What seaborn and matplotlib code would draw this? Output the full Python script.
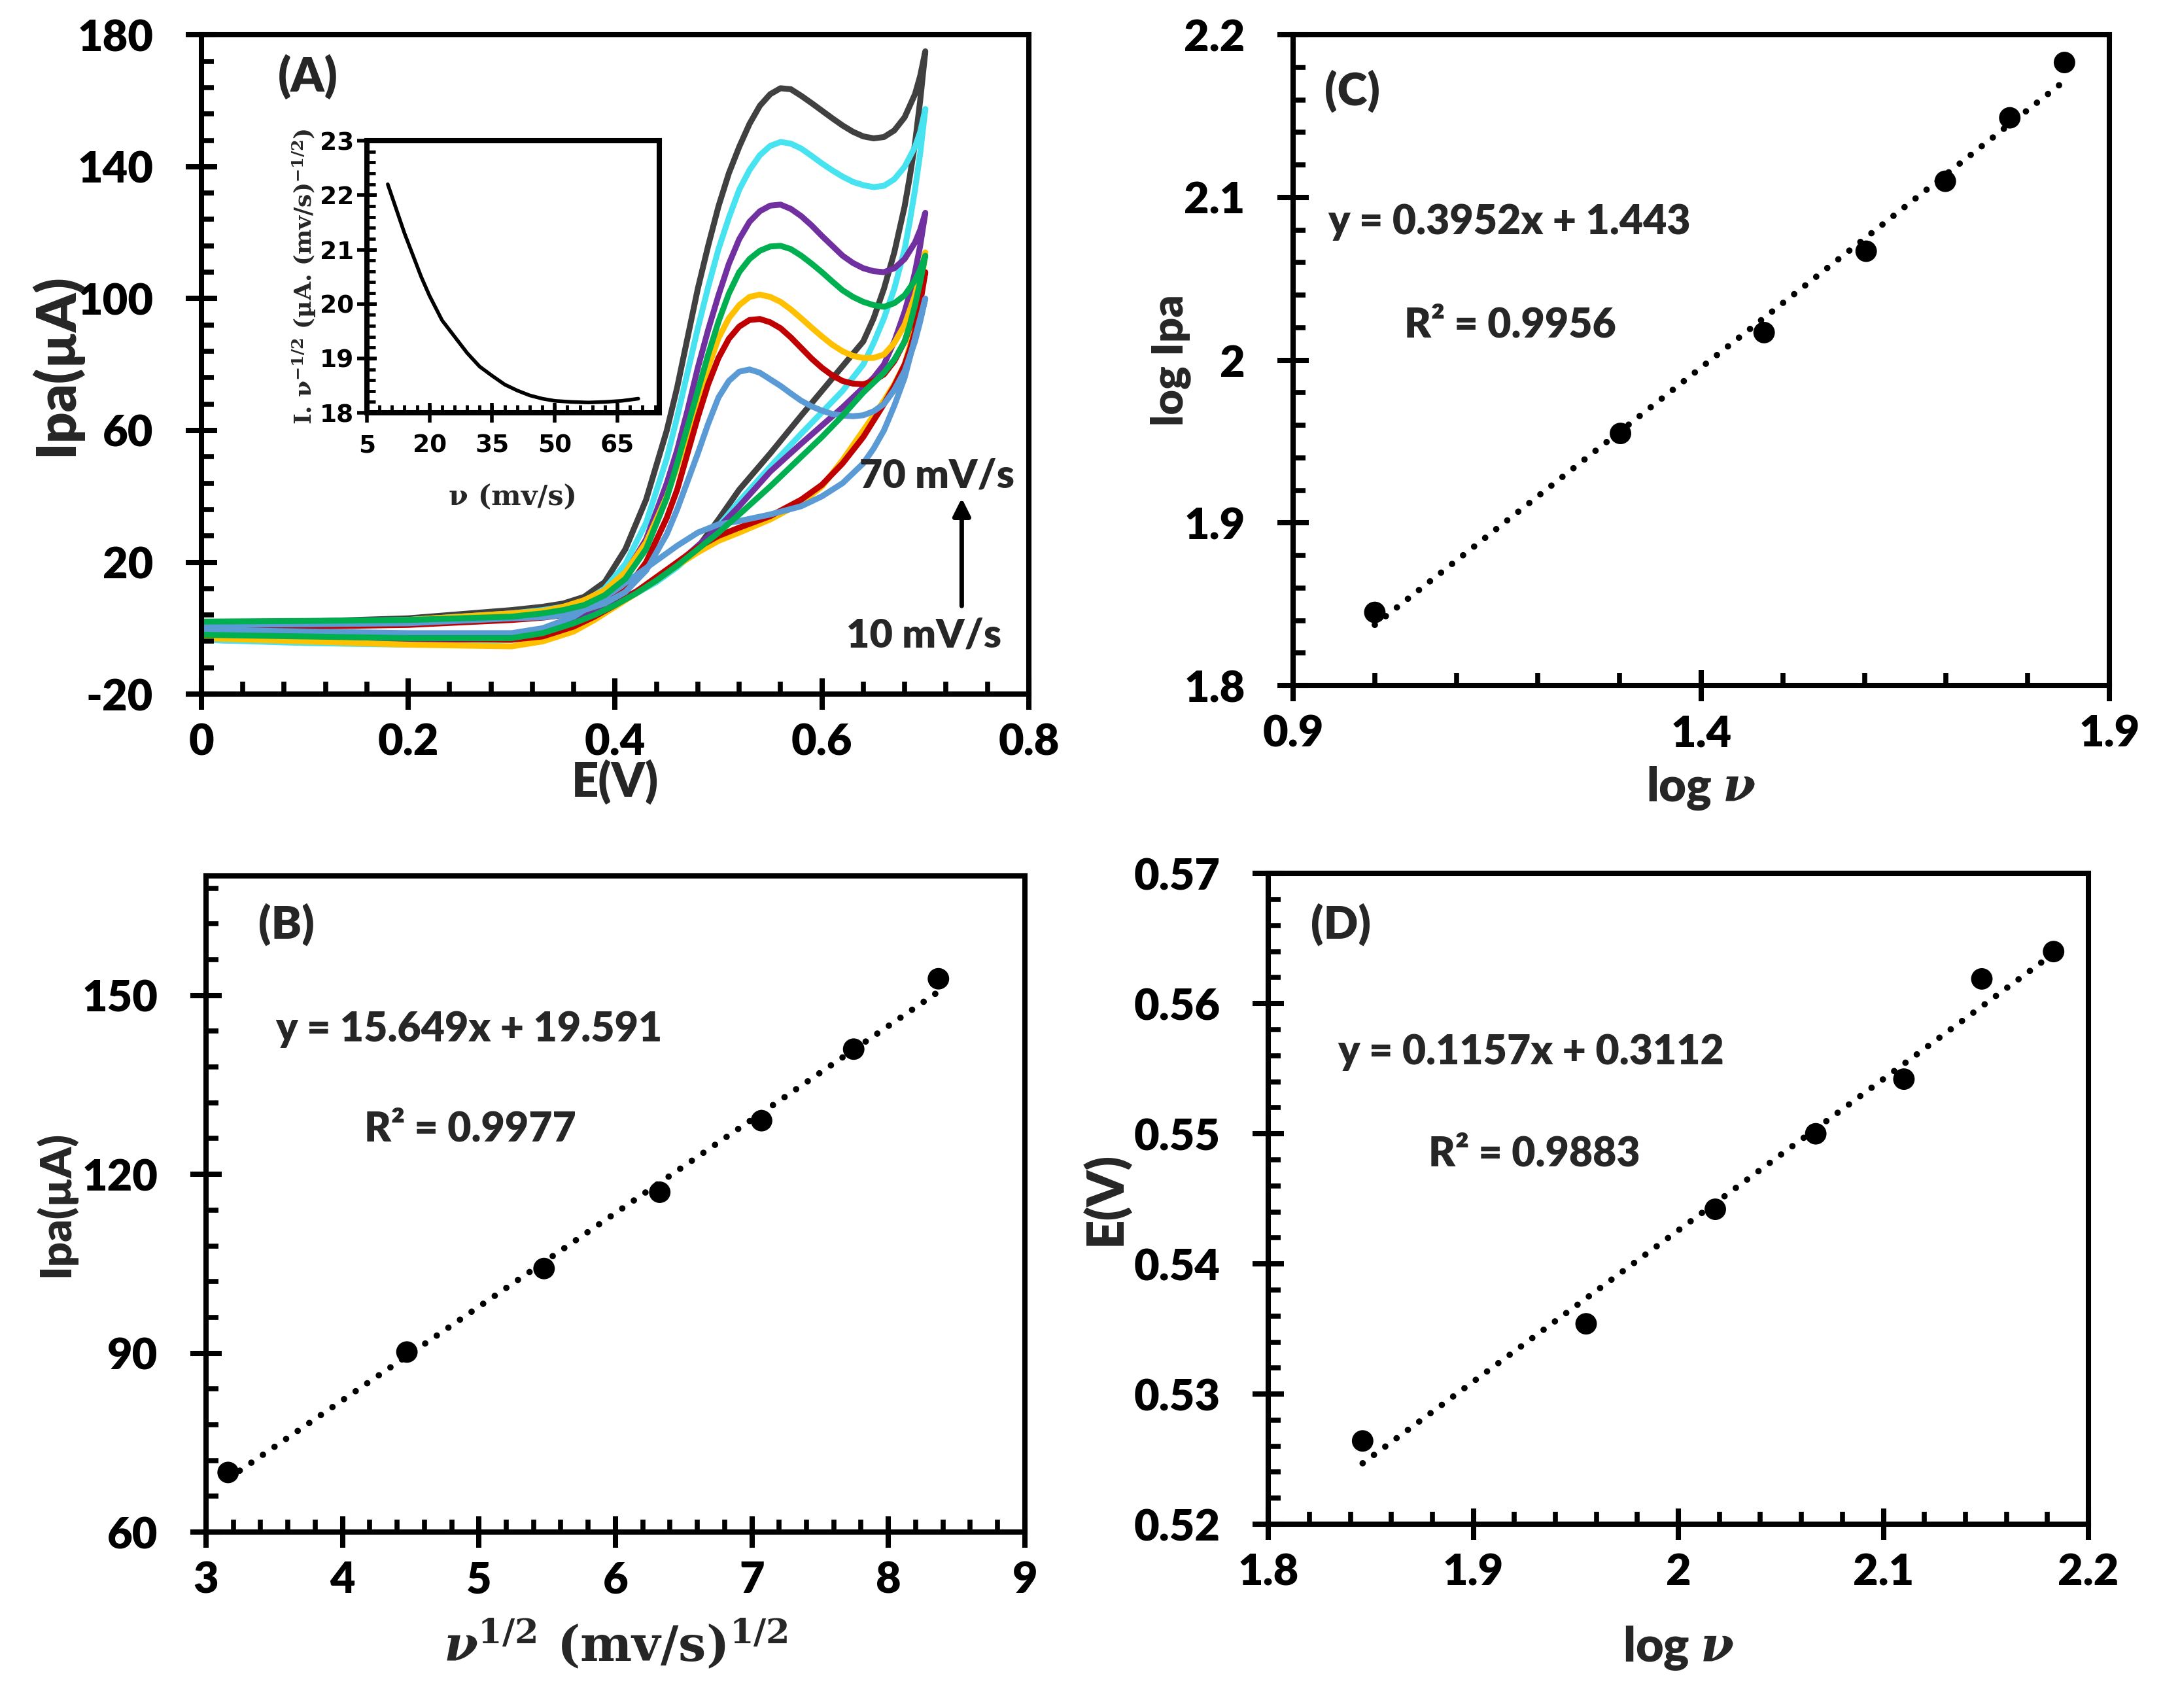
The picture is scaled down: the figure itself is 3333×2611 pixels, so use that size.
import numpy as np
import pandas as pd
import seaborn as sns
import matplotlib.pyplot as plt
from matplotlib.ticker import MultipleLocator, FixedLocator, FuncFormatter

# ---------------- (A) cyclic voltammograms ----------------
E_fwd = [0, 0.1, 0.2, 0.3, 0.33, 0.35, 0.37, 0.39, 0.41, 0.43, 0.45, 0.46, 0.47, 0.48,
         0.49, 0.5, 0.51, 0.52, 0.53, 0.54, 0.55, 0.56, 0.57, 0.58, 0.59, 0.6, 0.61,
         0.62, 0.63, 0.64, 0.65, 0.66, 0.67, 0.68, 0.69, 0.695, 0.7]
E_rev = [0.7, 0.695, 0.69, 0.685, 0.68, 0.67, 0.66, 0.65, 0.64, 0.62, 0.6, 0.58, 0.55,
         0.52, 0.5, 0.48, 0.46, 0.44, 0.42, 0.4, 0.38, 0.36, 0.33, 0.3, 0.2, 0.1, 0]

i_fwd_10 = [1, 1.2, 1.5, 3, 3.3, 4, 5.5, 7.5, 11, 17.5, 28.5, 36, 44.5, 53, 62, 70, 75, 77.8,
            78.5, 77.5, 75.5, 73.5, 71.2, 69, 67.3, 66, 65, 64.5, 64.3, 64.6, 65.8, 68, 72.3,
            78, 87, 93, 100]
i_rev_10 = [100, 94, 88, 82, 76, 67.5, 60, 54.5, 50, 44, 40, 37, 34.5, 32.5, 31.5, 29, 25,
            20.5, 16, 11.5, 7.5, 3.5, 0, -1.5, -1.5, -1, -0.5]
i_fwd_20 = [0, 0.5, 1, 2.5, 3.2, 4, 5.5, 7.5, 11.5, 20, 33.5, 42, 53, 64, 74, 82, 87.8, 91.5,
            93.5, 93.8, 92.8, 91, 88.2, 85, 81.8, 79, 76.7, 75, 74.2, 74, 75, 77, 81, 87, 96,
            101.5, 108]
i_rev_20 = [108, 98.5, 90, 84.5, 80, 73.5, 68, 63, 58, 50, 43.5, 39, 34, 30.5, 28, 24.5, 20,
            15.5, 11, 7, 3.5, 0.5, -2.5, -3.5, -3, -2, -1.5]
i_fwd_30 = [0.5, 1.5, 2.5, 4.5, 5.2, 6.5, 8.5, 11.5, 17, 26, 40, 49, 59, 69, 79, 88, 94, 98,
            100.5, 101.2, 100.5, 99, 96.7, 94, 91.2, 88.5, 86, 84, 82.6, 82, 82, 83, 86.5, 92,
            101, 107, 114]
i_rev_30 = [114, 102, 92, 85.5, 80, 74, 69, 64.5, 60, 51, 43, 38, 33, 29, 26.5, 23, 19, 14.5,
            10.5, 6.5, 2.5, -1, -4, -5.5, -5, -4, -3]
i_fwd_40 = [2, 2.2, 2.5, 3.5, 4.5, 5.5, 7, 10, 15, 24, 39.5, 50, 61, 72, 83, 93, 101.5, 108,
            112, 114.5, 115.8, 116, 115, 113, 110.6, 108, 105.2, 102.5, 100.5, 99, 98, 97.5,
            98.6, 101, 105.5, 108.8, 113]
i_rev_40 = [113, 105, 98, 92, 87, 81.5, 77.5, 74.5, 71.5, 64.5, 58, 52, 43, 34.5, 29, 24, 19,
            14.5, 10.5, 7, 4, 1.5, -1.5, -3, -3, -2.5, -2]
i_fwd_50 = [0.5, 1.5, 2, 4, 4.8, 5.5, 7, 10.5, 16.5, 27, 44, 54, 66, 79, 90.5, 101, 110.5, 118,
            123.3, 126.5, 128.2, 128.5, 127.2, 125, 122.2, 119, 116, 113, 110.8, 109.2, 108.3,
            108, 109.2, 112, 117, 120.8, 126]
i_rev_50 = [126, 116, 108, 101.5, 96, 87, 80, 76, 73, 67, 61.5, 56, 47.5, 37, 30.5, 25, 19.5,
            15, 11, 8, 5, 2.5, -1, -3, -4, -3.5, -3]
i_fwd_60 = [1, 2, 2.5, 4.5, 5.5, 6.5, 8, 12, 19.5, 32, 51.5, 64, 77.5, 91, 103.5, 115, 124.5,
            133, 139, 143.5, 146.3, 147.5, 147, 145.5, 143.3, 141, 138.9, 137, 135.4, 134.4,
            133.8, 134.2, 136.2, 140, 146, 150.5, 157.5]
i_rev_60 = [157.5, 144, 133, 123.5, 115, 103, 94, 86.5, 80, 72, 65.5, 59, 49, 38.5, 31, 24,
            18.5, 14, 10.5, 7.5, 5, 2.5, -1, -3.5, -5, -4.5, -3.5]
i_fwd_70 = [1.5, 2, 3, 5.5, 6.5, 7.5, 9.5, 14, 24, 39, 60, 73, 88, 103, 116, 128, 138, 146,
            153, 158.5, 162, 163.8, 163.5, 161.5, 159.3, 157, 154.7, 152.5, 150.6, 149.2,
            148.6, 149, 151, 155, 162, 167.5, 175]
i_rev_70 = [175, 160, 147, 137, 128, 114, 103, 94, 87, 79.5, 72, 64.5, 53, 42, 33, 24.5, 19,
            14.5, 11, 8, 5.5, 3, -0.5, -3, -4.5, -4.2, -3.5]

cv_colors = {10: '#5B9BD5', 20: '#C00000', 30: '#FFC000', 40: '#00B050',
             50: '#7030A0', 60: '#47E3F0', 70: '#404040'}
draw_order = [70, 60, 50, 30, 20, 10, 40]

# inset: I.v^-1/2 vs v
inset_v = [10, 12, 14, 16, 18, 20, 23, 26, 29, 32, 35, 38, 41, 44, 47, 50, 54, 58, 62, 66, 70]
inset_y = [22.2, 21.75, 21.3, 20.9, 20.5, 20.15, 19.7, 19.4, 19.1, 18.85, 18.68, 18.52,
           18.41, 18.32, 18.26, 18.22, 18.2, 18.19, 18.2, 18.22, 18.26]

# ---------------- (B) Ipa vs v^1/2 ----------------
sqrt_v = [3.162, 4.472, 5.477, 6.325, 7.071, 7.746, 8.367]
ipa = [70.0, 90.2, 104.2, 117.0, 129.0, 141.0, 152.8]

# ---------------- (C) log Ipa vs log v ----------------
log_v = [1.0, 1.301, 1.477, 1.602, 1.699, 1.778, 1.845]
log_ipa = [1.845, 1.955, 2.017, 2.067, 2.110, 2.149, 2.183]

# ---------------- (D) Ep vs log v ----------------
log_v_d = [1.846, 1.955, 2.018, 2.067, 2.110, 2.148, 2.183]
e_peak = [0.5264, 0.5354, 0.5442, 0.5500, 0.5542, 0.5619, 0.5640]

TICK_FS = 48
TEXT_FS = 45
SPINE_W = 5.8
HEAVY = 'heavy'


def fmt_g(v, pos):
    return f"{round(v, 6):g}"


def style_axes(ax, xlim, ylim, xmajor, xminor, ymajor, yminor):
    ax.set_xlim(*xlim)
    ax.set_ylim(*ylim)
    ax.xaxis.set_major_locator(xmajor)
    ax.xaxis.set_minor_locator(xminor)
    ax.yaxis.set_major_locator(ymajor)
    ax.yaxis.set_minor_locator(yminor)
    ax.xaxis.remove_overlapping_locs = False
    ax.yaxis.remove_overlapping_locs = False
    ax.xaxis.set_major_formatter(FuncFormatter(fmt_g))
    ax.yaxis.set_major_formatter(FuncFormatter(fmt_g))
    ax.tick_params(which='major', labelsize=TICK_FS)
    ax.tick_params(axis='x', which='major', pad=14)
    ax.tick_params(axis='y', which='major', pad=36)
    for lab in ax.get_xticklabels() + ax.get_yticklabels():
        lab.set_fontweight(HEAVY)
    # ticks drawn above the frame
    ax.xaxis.set_zorder(5)
    ax.yaxis.set_zorder(5)


def set_labels(ax, xlabel, ylabel, xpos, ypos, xfs, yfs, xkw=None):
    ax.set_xlabel(xlabel, fontsize=xfs, fontweight=HEAVY, **(xkw or {}))
    ax.set_ylabel(ylabel, fontsize=yfs, fontweight=HEAVY)
    ax.xaxis.set_label_coords(0.5, xpos)
    ax.yaxis.set_label_coords(ypos, 0.5)
    ax.xaxis.label.set_va('center')
    ax.yaxis.label.set_va('center')


def fit_panel(ax, x, y, eq, r2, letter, eq_pos, r2_pos, letter_pos):
    sns.regplot(x=x, y=y, ax=ax, ci=None, truncate=True,
                scatter_kws={'s': 560, 'color': 'black', 'alpha': 1,
                             'edgecolor': 'none', 'zorder': 3},
                line_kws={'color': 'black', 'lw': 7, 'linestyle': (0, (0.01, 2.2)),
                          'dash_capstyle': 'round'})
    ax.text(*letter_pos, letter, transform=ax.transAxes, fontsize=50,
            fontweight=HEAVY, va='center', ha='left')
    ax.text(*eq_pos, eq, transform=ax.transAxes, fontsize=TEXT_FS,
            fontweight=HEAVY, va='center', ha='left')
    ax.text(*r2_pos, r2, transform=ax.transAxes, fontsize=TEXT_FS,
            fontweight=HEAVY, va='center', ha='left')


def main():
    sns.set_style('ticks')
    plt.rcParams['font.family'] = ['Lato', 'DejaVu Sans']
    plt.rcParams['font.weight'] = 'bold'
    # thick black frame, Excel-like ticks (major crossing the axis, minor inside)
    plt.rcParams['axes.linewidth'] = SPINE_W
    plt.rcParams['axes.edgecolor'] = 'black'
    plt.rcParams['axes.axisbelow'] = False
    for ax_name in ('xtick', 'ytick'):
        plt.rcParams[f'{ax_name}.direction'] = 'inout'
        plt.rcParams[f'{ax_name}.major.size'] = 34
        plt.rcParams[f'{ax_name}.major.width'] = SPINE_W
        plt.rcParams[f'{ax_name}.minor.size'] = 14
        plt.rcParams[f'{ax_name}.minor.width'] = 5.5
        plt.rcParams[f'{ax_name}.color'] = 'black'
    plt.rcParams['xtick.bottom'] = True
    plt.rcParams['xtick.top'] = False
    plt.rcParams['ytick.left'] = True
    plt.rcParams['ytick.right'] = False

    fig = plt.figure(figsize=(33.33, 26.11), dpi=100)
    ax_a = fig.add_axes([0.0924, 0.5936, 0.3795, 0.386])
    ax_c = fig.add_axes([0.5932, 0.5986, 0.3744, 0.381])
    ax_b = fig.add_axes([0.0945, 0.1030, 0.3756, 0.384])
    ax_d = fig.add_axes([0.5818, 0.1076, 0.3762, 0.381])
    ax_in = fig.add_axes([0.1683, 0.7583, 0.1341, 0.1593])
    for ax in (ax_a, ax_b, ax_c, ax_d, ax_in):
        ax.tick_params(which='minor', direction='in')

    # ---- panel A ----
    fwd = {10: i_fwd_10, 20: i_fwd_20, 30: i_fwd_30, 40: i_fwd_40,
           50: i_fwd_50, 60: i_fwd_60, 70: i_fwd_70}
    rev = {10: i_rev_10, 20: i_rev_20, 30: i_rev_30, 40: i_rev_40,
           50: i_rev_50, 60: i_rev_60, 70: i_rev_70}
    frames = []
    for r in draw_order:
        frames.append(pd.DataFrame({'E': E_fwd + E_rev, 'I': fwd[r] + rev[r], 'rate': r}))
    cv = pd.concat(frames, ignore_index=True)
    sns.lineplot(data=cv, x='E', y='I', hue='rate', hue_order=draw_order,
                 palette=cv_colors, sort=False, estimator=None, lw=6.5,
                 legend=False, ax=ax_a)
    style_axes(ax_a, (0, 0.8), (-20, 180), MultipleLocator(0.2), MultipleLocator(0.04),
               FixedLocator(np.arange(-20, 181, 40)), FixedLocator(np.arange(-20, 181, 8)))
    set_labels(ax_a, 'E(V)', 'Ipa(µA)', -0.133, -0.176, 52, 60)
    ax_a.text(0.0925, 0.936, '(A)', transform=ax_a.transAxes, fontsize=52,
              fontweight=HEAVY, va='center', ha='left')
    ax_a.text(0.795, 0.331, '70 mV/s', transform=ax_a.transAxes, fontsize=44,
              fontweight=HEAVY, va='center', ha='left')
    ax_a.text(0.7795, 0.089, '10 mV/s', transform=ax_a.transAxes, fontsize=44,
              fontweight=HEAVY, va='center', ha='left')
    ax_a.annotate('', xy=(0.919, 0.30), xytext=(0.919, 0.131), xycoords='axes fraction',
                  arrowprops=dict(arrowstyle='-|>', lw=5, color='black', mutation_scale=40))

    # ---- inset ----
    sns.lineplot(x=inset_v, y=inset_y, color='black', lw=4, ax=ax_in)
    ax_in.set_xlim(5, 75)
    ax_in.set_ylim(18, 23)
    ax_in.xaxis.set_major_locator(FixedLocator([5, 20, 35, 50, 65]))
    ax_in.xaxis.set_minor_locator(FixedLocator(np.arange(5, 76, 3)))
    ax_in.yaxis.set_major_locator(MultipleLocator(1))
    ax_in.yaxis.set_minor_locator(MultipleLocator(0.2))
    ax_in.xaxis.remove_overlapping_locs = False
    ax_in.yaxis.remove_overlapping_locs = False
    ax_in.tick_params(which='major', length=22, width=4, labelsize=27)
    ax_in.tick_params(axis='x', which='major', pad=12)
    ax_in.tick_params(axis='y', which='major', pad=3)
    ax_in.tick_params(which='minor', length=9, width=3.5)
    ax_in.xaxis.set_zorder(5)
    ax_in.yaxis.set_zorder(5)
    for lab in ax_in.get_xticklabels() + ax_in.get_yticklabels():
        lab.set_fontfamily('DejaVu Sans')
        lab.set_fontweight('bold')
    ax_in.set_xlabel('ν (mv/s)', fontsize=31, fontweight='bold', family='DejaVu Serif')
    ax_in.set_ylabel(r'I. ν$^{\mathbf{-1/2}}$ (µA. (mv/s)$^{\mathbf{-1/2}}$)', fontsize=26,
                     fontweight='bold', family='DejaVu Serif', math_fontfamily='dejavuserif')
    ax_in.xaxis.set_label_coords(0.5, -0.31)
    ax_in.yaxis.set_label_coords(-0.215, 0.5)
    ax_in.xaxis.label.set_va('center')
    ax_in.yaxis.label.set_va('center')

    # ---- panel B ----
    fit_panel(ax_b, sqrt_v, ipa, 'y = 15.649x + 19.591', 'R² = 0.9977', '(B)',
              (0.0847, 0.767), (0.193, 0.614), (0.064, 0.926))
    style_axes(ax_b, (3, 9), (60, 170), MultipleLocator(1), MultipleLocator(0.2),
               MultipleLocator(30), MultipleLocator(6))
    set_labels(ax_b, r'$\boldsymbol{\nu}^{\mathbf{1/2}}$ (mv/s)$^{\mathbf{1/2}}$', 'Ipa(µA)',
               -0.172, -0.184, 54, 48,
               xkw={'family': 'DejaVu Serif', 'math_fontfamily': 'dejavuserif'})

    # ---- panel C ----
    fit_panel(ax_c, log_v, log_ipa, 'y = 0.3952x + 1.443', 'R² = 0.9956', '(C)',
              (0.0425, 0.712), (0.136, 0.554), (0.038, 0.913))
    style_axes(ax_c, (0.9, 1.9), (1.8, 2.2), FixedLocator([0.9, 1.4, 1.9]),
               FixedLocator(np.arange(0.9, 1.95, 0.1)), MultipleLocator(0.1),
               MultipleLocator(0.02))
    set_labels(ax_c, r'log $\boldsymbol{\nu}$', 'log Ipa', -0.158, -0.15, 52, 48,
               xkw={'math_fontfamily': 'dejavuserif'})

    # ---- panel D ----
    fit_panel(ax_d, log_v_d, e_peak, 'y = 0.1157x + 0.3112', 'R² = 0.9883', '(D)',
              (0.0845, 0.725), (0.195, 0.569), (0.052, 0.921))
    style_axes(ax_d, (1.8, 2.2), (0.52, 0.57), MultipleLocator(0.1), MultipleLocator(0.02),
               MultipleLocator(0.01), MultipleLocator(0.002))
    set_labels(ax_d, r'log $\boldsymbol{\nu}$', 'E(V)', -0.19, -0.199, 53, 56,
               xkw={'math_fontfamily': 'dejavuserif'})

    fig.savefig('out.png', dpi=100, facecolor='white')


if __name__ == "__main__":
    main()
